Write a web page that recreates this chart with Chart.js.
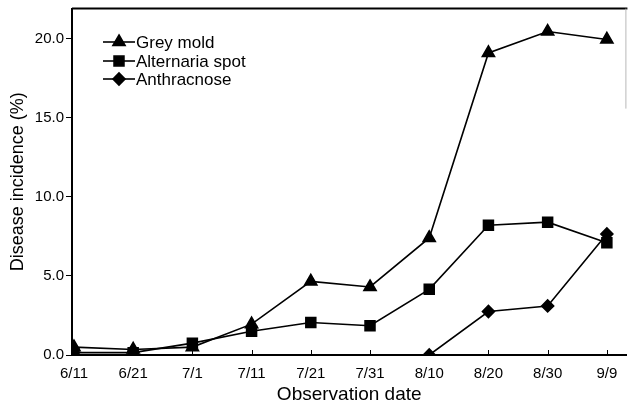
<!DOCTYPE html>
<html>
<head>
<meta charset="utf-8">
<script src="https://cdn.jsdelivr.net/npm/chart.js@4.4.1/dist/chart.umd.min.js"></script>
<style>
html,body{margin:0;padding:0;background:#fff;}
canvas{display:block;}
</style>
</head>
<body>
<canvas id="c" width="635" height="407"></canvas>
<script>
const dates = ["6/11","6/21","7/1","7/11","7/21","7/31","8/10","8/20","8/30","9/9"];
const greyMold = [0.5, 0.35, 0.5, 1.95, 4.65, 4.3, 7.4, 19.1, 20.45, 19.95];
const alternariaSpot = [0.15, 0.15, 0.75, 1.5, 2.05, 1.85, 4.15, 8.2, 8.4, 7.1];
const anthracnose = [0, 0, 0, 0, 0, 0, 0, 2.75, 3.1, 7.65];
const yTicks = [0, 5, 10, 15, 20];
const seriesNames = ["Grey mold", "Alternaria spot", "Anthracnose"];

const FONT = "'Liberation Sans', Arial, sans-serif";

function pts(arr){ return arr.map((v,i)=>({x:i, y:v})); }

const legendPlugin = {
  id: 'customLegend',
  afterDatasetsDraw(chart){
    const ctx = chart.ctx;
    const rows = [42, 61, 79];
    ctx.save();
    chart.data.datasets.forEach((ds, i) => {
      const y = rows[i];
      ctx.strokeStyle = '#000';
      ctx.fillStyle = '#000';
      ctx.lineWidth = 1.6;
      ctx.beginPath();
      ctx.moveTo(103, y);
      ctx.lineTo(135, y);
      ctx.stroke();
      Chart.helpers.drawPoint(ctx, {pointStyle: ds.pointStyle, radius: ds.legendRadius, rotation: 0, borderWidth: 1}, 119, y);
      ctx.font = "17px " + FONT;
      ctx.textBaseline = 'middle';
      ctx.textAlign = 'left';
      ctx.fillText(ds.label, 136, y + 1);
    });
    ctx.restore();
  }
};

const framePlugin = {
  id: 'frame',
  afterDraw(chart){
    const ctx = chart.ctx;
    const a = chart.chartArea;
    const xs = chart.scales.x;
    ctx.save();
    ctx.strokeStyle = '#000';
    ctx.lineWidth = 2;
    ctx.beginPath();
    ctx.moveTo(a.left, a.top);
    ctx.lineTo(a.right + 1, a.top);
    ctx.stroke();
    ctx.strokeStyle = '#b8b8b8';
    ctx.lineWidth = 1;
    ctx.beginPath();
    ctx.moveTo(a.right - 0.5, a.top);
    ctx.lineTo(a.right - 0.5, a.top + 100);
    ctx.stroke();
    ctx.strokeStyle = '#000';
    ctx.lineWidth = 1;
    dates.forEach((d, i) => {
      const x = Math.round(xs.getPixelForValue(i)) + 0.5;
      ctx.beginPath();
      ctx.moveTo(x, a.bottom);
      ctx.lineTo(x, a.bottom - 5);
      ctx.stroke();
    });
    ctx.restore();
  }
};

const common = {
  borderColor: '#000',
  backgroundColor: '#000',
  pointBackgroundColor: '#000',
  pointBorderColor: '#000',
  borderWidth: 1.6,
  tension: 0,
  fill: false
};

new Chart(document.getElementById('c'), {
  type: 'line',
  data: {
    datasets: [
      Object.assign({}, common, {label: seriesNames[0], data: pts(greyMold), pointStyle: 'triangle', pointRadius: 7, legendRadius: 7}),
      Object.assign({}, common, {label: seriesNames[1], data: pts(alternariaSpot), pointStyle: 'rect', pointRadius: 7, legendRadius: 7}),
      Object.assign({}, common, {label: seriesNames[2], data: pts(anthracnose), pointStyle: 'rectRot', legendRadius: 6,
        pointRadius: (c) => {
          const i = c.dataIndex;
          return (anthracnose[i] === 0 && anthracnose[i+1] === 0) ? 0 : 6;
        }})
    ]
  },
  options: {
    responsive: false,
    animation: false,
    devicePixelRatio: 1,
    layout: {padding: {top: 7, right: 1, left: 0, bottom: 0}},
    plugins: {legend: {display: false}, tooltip: {enabled: false}},
    elements: {point: {hoverRadius: 6}},
    scales: {
      x: {
        type: 'linear',
        min: -0.033,
        max: 9.33,
        afterBuildTicks: (s) => { s.ticks = dates.map((d, i) => ({value: i})); },
        afterFit: (s) => { s.height = 52; s.paddingLeft = 0; s.paddingRight = 0; },
        grid: {display: false, drawTicks: false},
        border: {display: true, color: '#000', width: 2},
        ticks: {
          autoSkip: false,
          maxRotation: 0,
          padding: 10,
          color: '#000',
          font: {family: FONT, size: 15},
          callback: (v) => dates[v] !== undefined ? dates[v] : ''
        },
        title: {
          display: true,
          text: 'Observation date',
          color: '#000',
          font: {family: FONT, size: 19},
          padding: {top: 0, bottom: 1}
        }
      },
      y: {
        type: 'linear',
        min: 0,
        max: 21.9,
        afterBuildTicks: (s) => { s.ticks = yTicks.map(v => ({value: v})); },
        afterFit: (s) => { s.width = 72; s.paddingTop = 0; s.paddingBottom = 0; },
        grid: {drawOnChartArea: false, drawTicks: true, tickLength: 6, color: '#000', tickWidth: 1},
        border: {display: true, color: '#000', width: 2},
        ticks: {
          padding: 2,
          color: '#000',
          font: {family: FONT, size: 15},
          callback: (v) => Number(v).toFixed(1)
        },
        title: {
          display: true,
          text: 'Disease incidence (%)',
          color: '#000',
          font: {family: FONT, size: 18},
          padding: {top: 7, bottom: 0}
        }
      }
    }
  },
  plugins: [legendPlugin, framePlugin]
});
</script>
</body>
</html>
